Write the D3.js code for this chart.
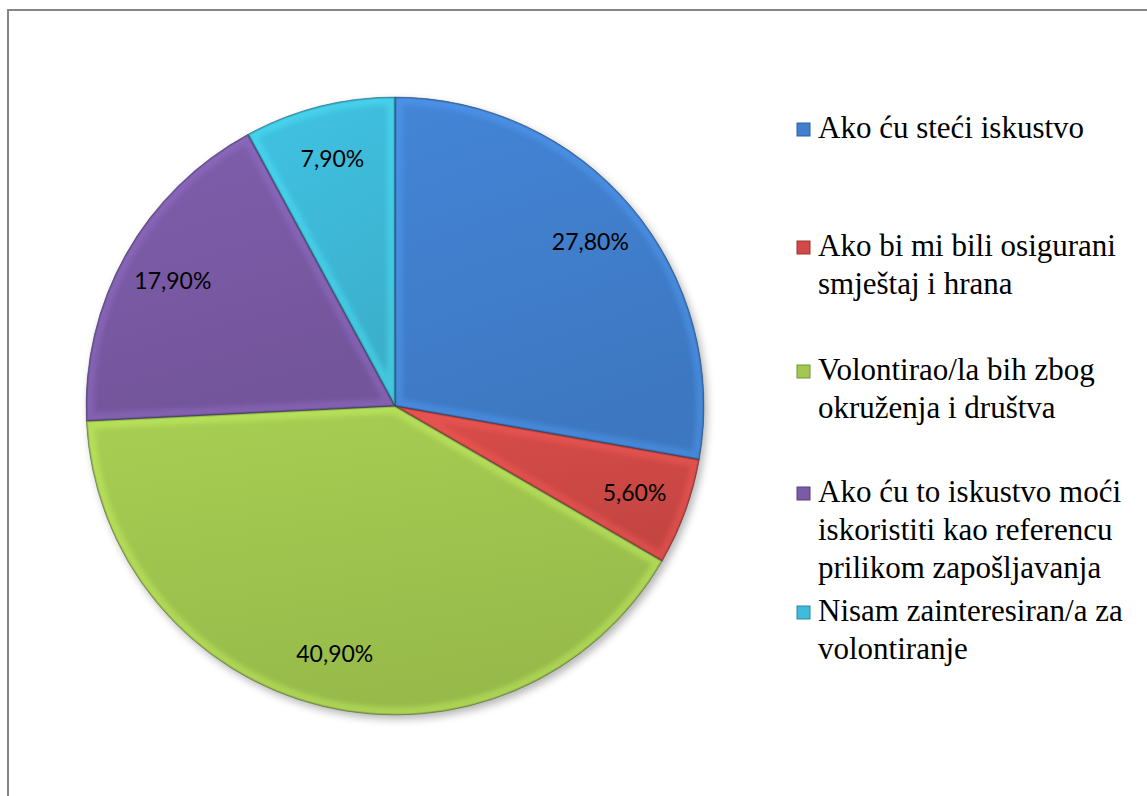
<!DOCTYPE html>
<html>
<head>
<meta charset="utf-8">
<script src="https://cdn.jsdelivr.net/npm/d3@7"></script>
</head>
<body style="margin:0;background:#fff">
<svg id="chart" width="1147" height="796" style="display:block"></svg>
<script>
const categories = [
    ["Ako ću steći iskustvo"],
    ["Ako bi mi bili osigurani", "smještaj i hrana"],
    ["Volontirao/la bih zbog", "okruženja i društva"],
    ["Ako ću to iskustvo moći", "iskoristiti kao referencu", "prilikom zapošljavanja"],
    ["Nisam zainteresiran/a za", "volontiranje"]
];
const values = [27.8, 5.6, 40.9, 17.9, 7.9];
const valueLabels = ["27,80%", "5,60%", "40,90%", "17,90%", "7,90%"];
const colors = ["#4280cf", "#d24a47", "#a2c850", "#7b5ba6", "#3fbcdb"];
const darkColors = ["#2f5f9e", "#9c3331", "#759337", "#59417c", "#2a8aa3"];
const legendY = [138, 256, 380, 502, 621];

const svg = d3.select('#chart');
const cx = 395, cy = 406, r = 309;

// outer frame
svg.append('rect')
    .attr('x', 8).attr('y', 10)
    .attr('width', 1160).attr('height', 800)
    .attr('fill', 'none')
    .attr('stroke', '#868686')
    .attr('stroke-width', 2);

const defs = svg.append('defs');
colors.forEach((c, i) => {
    const g = defs.append('linearGradient')
	.attr('id', `grad${i}`)
	.attr('x1', 0).attr('y1', 0).attr('x2', 0.3).attr('y2', 1);
    g.append('stop').attr('offset', '0%').attr('stop-color', d3.color(c).brighter(0.1));
    g.append('stop').attr('offset', '100%').attr('stop-color', d3.color(c).darker(0.2));
});
const shadow = defs.append('filter').attr('id', 'shadow')
    .attr('x', '-10%').attr('y', '-10%').attr('width', '130%').attr('height', '130%');
shadow.append('feGaussianBlur').attr('in', 'SourceAlpha').attr('stdDeviation', 4);
shadow.append('feOffset').attr('dx', 3).attr('dy', 4).attr('result', 'b');
shadow.append('feComponentTransfer').append('feFuncA').attr('type', 'linear').attr('slope', 0.3);
const blur = defs.append('filter').attr('id', 'soft');
blur.append('feGaussianBlur').attr('stdDeviation', 2);

const pie = d3.pie().sort(null).value(d => d);
const arcs = pie(values);
const arc = d3.arc().innerRadius(0).outerRadius(r);
const labelArc = d3.arc().innerRadius(255).outerRadius(255);

const g = svg.append('g').attr('transform', `translate(${cx},${cy})`);

g.append('circle').attr('r', r).attr('fill', '#888').attr('filter', 'url(#shadow)');

arcs.forEach((a, i) => {
    defs.append('clipPath').attr('id', `clip${i}`)
	.append('path').attr('d', arc(a));
});

g.selectAll('path.slice').data(arcs)
    .join('path')
    .attr('class', 'slice')
    .attr('d', arc)
    .attr('fill', (d, i) => `url(#grad${i})`);

// soft bevel: lighter inner rim, darker outer edge
const bevel = g.selectAll('g.bevel').data(arcs)
    .join('g')
    .attr('class', 'bevel')
    .attr('clip-path', (d, i) => `url(#clip${i})`);
bevel.append('path')
    .attr('d', arc)
    .attr('fill', 'none')
    .attr('filter', 'url(#soft)')
    .attr('stroke', (d, i) => d3.color(colors[i]).brighter(0.7))
    .attr('stroke-opacity', 0.35)
    .attr('stroke-width', 16);
bevel.append('path')
    .attr('d', arc)
    .attr('fill', 'none')
    .attr('stroke', (d, i) => darkColors[i])
    .attr('stroke-opacity', 0.45)
    .attr('stroke-width', 3);
g.selectAll('path.line').data(arcs)
    .join('path')
    .attr('class', 'line')
    .attr('d', arc)
    .attr('fill', 'none')
    .attr('stroke', '#1d2a3a')
    .attr('stroke-opacity', 0.45)
    .attr('stroke-width', 0.8);

g.selectAll('text.lbl').data(arcs)
    .join('text')
    .attr('class', 'lbl')
    .attr('x', d => labelArc.centroid(d)[0])
    .attr('y', d => labelArc.centroid(d)[1] + 8)
    .attr('text-anchor', 'middle')
    .attr('font-family', "Lato, 'Open Sans', sans-serif")
    .attr('font-size', 23)
    .attr('fill', '#000')
    .text((d, i) => valueLabels[i]);

// legend
const leg = svg.append('g');
categories.forEach((lines, i) => {
    leg.append('rect')
	.attr('x', 797).attr('y', legendY[i] - 15)
	.attr('width', 13).attr('height', 13)
	.attr('fill', colors[i])
	.attr('stroke', darkColors[i])
	.attr('stroke-width', 1);
    const t = leg.append('text')
	.attr('x', 818).attr('y', legendY[i])
	.attr('font-family', "'Liberation Serif', 'Times New Roman', 'DejaVu Serif', serif")
	.attr('font-size', 31)
	.attr('fill', '#000');
    lines.forEach((s, k) => {
	t.append('tspan').attr('x', 818).attr('dy', k === 0 ? 0 : 38).text(s);
    });
});
</script>
</body>
</html>
